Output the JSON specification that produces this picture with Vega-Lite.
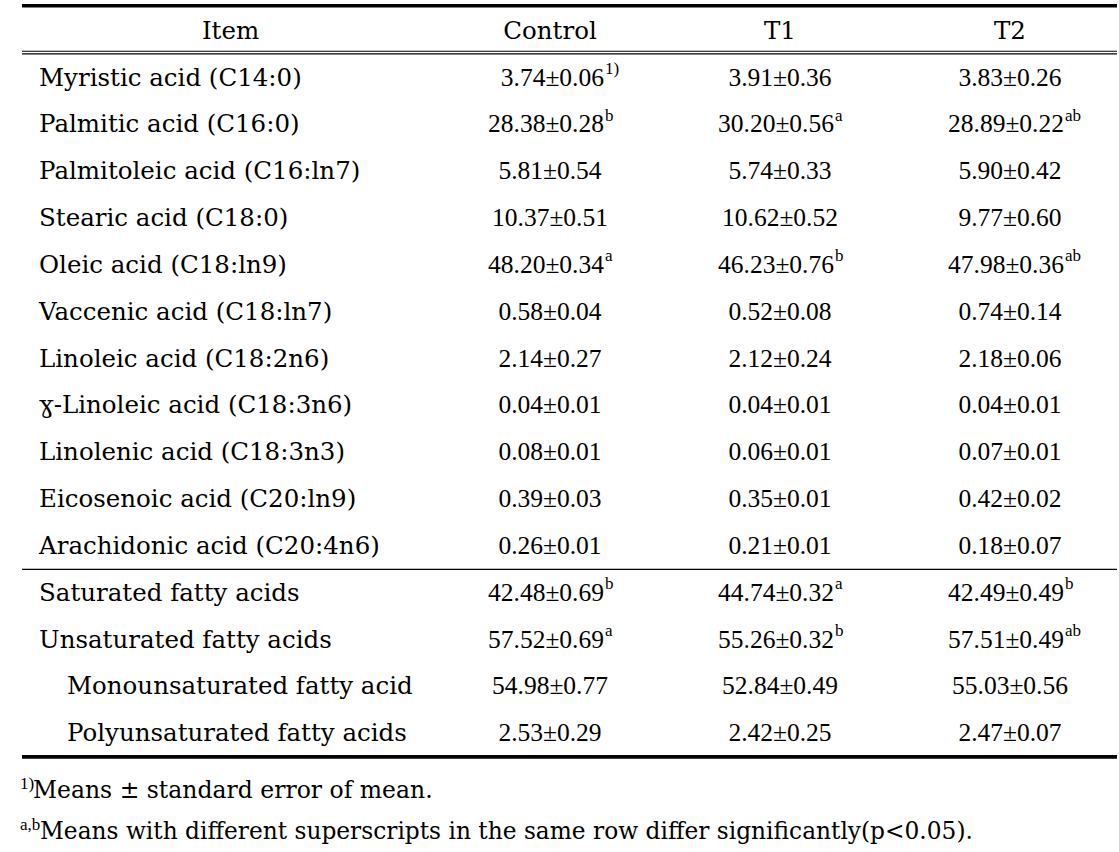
{
  "$schema": "https://vega.github.io/schema/vega-lite/v6.json",
  "width": 1119,
  "height": 852,
  "autosize": {"type": "fit", "contains": "padding"},
  "padding": {"left": 20, "top": 0, "right": 0, "bottom": 0},
  "background": "white",
  "config": {"view": {"stroke": null}},
  "datasets": {
    "items": [
      {"row": 1, "item": "Myristic acid (C14:0)", "level": 1},
      {"row": 2, "item": "Palmitic acid (C16:0)", "level": 1},
      {"row": 3, "item": "Palmitoleic acid (C16:ln7)", "level": 1},
      {"row": 4, "item": "Stearic acid (C18:0)", "level": 1},
      {"row": 5, "item": "Oleic acid (C18:ln9)", "level": 1},
      {"row": 6, "item": "Vaccenic acid (C18:ln7)", "level": 1},
      {"row": 7, "item": "Linoleic acid (C18:2n6)", "level": 1},
      {"row": 8, "item": "ɣ-Linoleic acid (C18:3n6)", "level": 1},
      {"row": 9, "item": "Linolenic acid (C18:3n3)", "level": 1},
      {"row": 10, "item": "Eicosenoic acid (C20:ln9)", "level": 1},
      {"row": 11, "item": "Arachidonic acid (C20:4n6)", "level": 1},
      {"row": 12, "item": "Saturated fatty acids", "level": 1},
      {"row": 13, "item": "Unsaturated fatty acids", "level": 1},
      {"row": 14, "item": "Monounsaturated fatty acid", "level": 2},
      {"row": 15, "item": "Polyunsaturated fatty acids", "level": 2}
    ],
    "cells": [
      {"row": 1, "group": "Control", "value": "3.74±0.06", "sup": "1)"},
      {"row": 1, "group": "T1", "value": "3.91±0.36", "sup": ""},
      {"row": 1, "group": "T2", "value": "3.83±0.26", "sup": ""},
      {"row": 2, "group": "Control", "value": "28.38±0.28", "sup": "b"},
      {"row": 2, "group": "T1", "value": "30.20±0.56", "sup": "a"},
      {"row": 2, "group": "T2", "value": "28.89±0.22", "sup": "ab"},
      {"row": 3, "group": "Control", "value": "5.81±0.54", "sup": ""},
      {"row": 3, "group": "T1", "value": "5.74±0.33", "sup": ""},
      {"row": 3, "group": "T2", "value": "5.90±0.42", "sup": ""},
      {"row": 4, "group": "Control", "value": "10.37±0.51", "sup": ""},
      {"row": 4, "group": "T1", "value": "10.62±0.52", "sup": ""},
      {"row": 4, "group": "T2", "value": "9.77±0.60", "sup": ""},
      {"row": 5, "group": "Control", "value": "48.20±0.34", "sup": "a"},
      {"row": 5, "group": "T1", "value": "46.23±0.76", "sup": "b"},
      {"row": 5, "group": "T2", "value": "47.98±0.36", "sup": "ab"},
      {"row": 6, "group": "Control", "value": "0.58±0.04", "sup": ""},
      {"row": 6, "group": "T1", "value": "0.52±0.08", "sup": ""},
      {"row": 6, "group": "T2", "value": "0.74±0.14", "sup": ""},
      {"row": 7, "group": "Control", "value": "2.14±0.27", "sup": ""},
      {"row": 7, "group": "T1", "value": "2.12±0.24", "sup": ""},
      {"row": 7, "group": "T2", "value": "2.18±0.06", "sup": ""},
      {"row": 8, "group": "Control", "value": "0.04±0.01", "sup": ""},
      {"row": 8, "group": "T1", "value": "0.04±0.01", "sup": ""},
      {"row": 8, "group": "T2", "value": "0.04±0.01", "sup": ""},
      {"row": 9, "group": "Control", "value": "0.08±0.01", "sup": ""},
      {"row": 9, "group": "T1", "value": "0.06±0.01", "sup": ""},
      {"row": 9, "group": "T2", "value": "0.07±0.01", "sup": ""},
      {"row": 10, "group": "Control", "value": "0.39±0.03", "sup": ""},
      {"row": 10, "group": "T1", "value": "0.35±0.01", "sup": ""},
      {"row": 10, "group": "T2", "value": "0.42±0.02", "sup": ""},
      {"row": 11, "group": "Control", "value": "0.26±0.01", "sup": ""},
      {"row": 11, "group": "T1", "value": "0.21±0.01", "sup": ""},
      {"row": 11, "group": "T2", "value": "0.18±0.07", "sup": ""},
      {"row": 12, "group": "Control", "value": "42.48±0.69", "sup": "b"},
      {"row": 12, "group": "T1", "value": "44.74±0.32", "sup": "a"},
      {"row": 12, "group": "T2", "value": "42.49±0.49", "sup": "b"},
      {"row": 13, "group": "Control", "value": "57.52±0.69", "sup": "a"},
      {"row": 13, "group": "T1", "value": "55.26±0.32", "sup": "b"},
      {"row": 13, "group": "T2", "value": "57.51±0.49", "sup": "ab"},
      {"row": 14, "group": "Control", "value": "54.98±0.77", "sup": ""},
      {"row": 14, "group": "T1", "value": "52.84±0.49", "sup": ""},
      {"row": 14, "group": "T2", "value": "55.03±0.56", "sup": ""},
      {"row": 15, "group": "Control", "value": "2.53±0.29", "sup": ""},
      {"row": 15, "group": "T1", "value": "2.42±0.25", "sup": ""},
      {"row": 15, "group": "T2", "value": "2.47±0.07", "sup": ""}
    ],
    "headers": [
      {"col": "Item"},
      {"col": "Control"},
      {"col": "T1"},
      {"col": "T2"}
    ],
    "rules": [
      {"at": -0.51, "weight": "heavy"},
      {"at": 0.46, "weight": "light"},
      {"at": 0.515, "weight": "light"},
      {"at": 11.52, "weight": "light"},
      {"at": 15.525, "weight": "heavy"}
    ],
    "notes": [
      {"row": 16.2, "mark": "1)", "text": "Means ± standard error of mean."},
      {"row": 17.08, "mark": "a,b", "text": "Means with different superscripts in the same row differ significantly(p<0.05)."}
    ]
  },
  "layer": [
    {
      "data": {"name": "rules"},
      "mark": {"type": "rule", "color": "#000000"},
      "encoding": {
        "y": {"field": "at", "type": "quantitative", "axis": null, "scale": {"domain": [-0.634, 17.555], "reverse": true, "zero": false, "nice": false}},
        "strokeWidth": {"field": "weight", "type": "nominal", "legend": null, "scale": {"domain": ["heavy", "light"], "range": [3.6, 1.2]}}
      }
    },
    {
      "data": {"name": "headers"},
      "transform": [{"filter": "datum.col !== 'Item'"}],
      "mark": {"type": "text", "font": "DejaVu Serif", "fontSize": 24.5, "align": "center", "baseline": "middle", "dy": 2, "color": "#000000"},
      "encoding": {
        "x": {"field": "col", "type": "nominal", "axis": null, "scale": {"type": "point", "domain": ["Item", "Control", "T1", "T2"], "range": [298, 988], "padding": 0}},
        "y": {"datum": 0, "type": "quantitative", "axis": null, "scale": {"domain": [-0.634, 17.555], "reverse": true, "zero": false, "nice": false}},
        "text": {"field": "col"}
      }
    },
    {
      "data": {"name": "headers"},
      "transform": [{"filter": "datum.col === 'Item'"}],
      "mark": {"type": "text", "font": "DejaVu Serif", "fontSize": 24.5, "align": "center", "baseline": "middle", "dx": -89.5, "dy": 2, "color": "#000000"},
      "encoding": {
        "x": {"field": "col", "type": "nominal", "axis": null, "scale": {"type": "point", "domain": ["Item", "Control", "T1", "T2"], "range": [298, 988], "padding": 0}},
        "y": {"datum": 0, "type": "quantitative", "axis": null, "scale": {"domain": [-0.634, 17.555], "reverse": true, "zero": false, "nice": false}},
        "text": {"field": "col"}
      }
    },
    {
      "data": {"name": "items"},
      "transform": [{"filter": "datum.level === 1"}],
      "mark": {"type": "text", "font": "DejaVu Serif", "fontSize": 24.5, "align": "left", "baseline": "middle", "dx": -281, "dy": 2, "color": "#000000"},
      "encoding": {
        "x": {"datum": "Item", "type": "nominal", "axis": null, "scale": {"type": "point", "domain": ["Item", "Control", "T1", "T2"], "range": [298, 988], "padding": 0}},
        "y": {"field": "row", "type": "quantitative", "axis": null, "scale": {"domain": [-0.634, 17.555], "reverse": true, "zero": false, "nice": false}},
        "text": {"field": "item"}
      }
    },
    {
      "data": {"name": "items"},
      "transform": [{"filter": "datum.level === 2"}],
      "mark": {"type": "text", "font": "DejaVu Serif", "fontSize": 24.5, "align": "left", "baseline": "middle", "dx": -253, "dy": 2, "color": "#000000"},
      "encoding": {
        "x": {"datum": "Item", "type": "nominal", "axis": null, "scale": {"type": "point", "domain": ["Item", "Control", "T1", "T2"], "range": [298, 988], "padding": 0}},
        "y": {"field": "row", "type": "quantitative", "axis": null, "scale": {"domain": [-0.634, 17.555], "reverse": true, "zero": false, "nice": false}},
        "text": {"field": "item"}
      }
    },
    {
      "data": {"name": "cells"},
      "transform": [{"filter": "datum.sup === ''"}],
      "mark": {"type": "text", "font": "Liberation Serif", "fontSize": 25.5, "align": "center", "baseline": "middle", "dy": 1, "color": "#000000"},
      "encoding": {
        "x": {"field": "group", "type": "nominal", "axis": null, "scale": {"type": "point", "domain": ["Item", "Control", "T1", "T2"], "range": [298, 988], "padding": 0}},
        "y": {"field": "row", "type": "quantitative", "axis": null, "scale": {"domain": [-0.634, 17.555], "reverse": true, "zero": false, "nice": false}},
        "text": {"field": "value"}
      }
    },
    {
      "data": {"name": "cells"},
      "transform": [{"filter": "datum.sup !== ''"}],
      "mark": {"type": "text", "font": "Liberation Serif", "fontSize": 25.5, "align": "right", "baseline": "middle", "dx": 54, "dy": 1, "color": "#000000"},
      "encoding": {
        "x": {"field": "group", "type": "nominal", "axis": null, "scale": {"type": "point", "domain": ["Item", "Control", "T1", "T2"], "range": [298, 988], "padding": 0}},
        "y": {"field": "row", "type": "quantitative", "axis": null, "scale": {"domain": [-0.634, 17.555], "reverse": true, "zero": false, "nice": false}},
        "text": {"field": "value"}
      }
    },
    {
      "data": {"name": "cells"},
      "transform": [{"filter": "datum.sup !== ''"}],
      "mark": {"type": "text", "font": "Liberation Serif", "fontSize": 17, "align": "left", "baseline": "middle", "dx": 55, "dy": -7.5, "color": "#000000"},
      "encoding": {
        "x": {"field": "group", "type": "nominal", "axis": null, "scale": {"type": "point", "domain": ["Item", "Control", "T1", "T2"], "range": [298, 988], "padding": 0}},
        "y": {"field": "row", "type": "quantitative", "axis": null, "scale": {"domain": [-0.634, 17.555], "reverse": true, "zero": false, "nice": false}},
        "text": {"field": "sup"}
      }
    },
    {
      "data": {"name": "notes"},
      "mark": {"type": "text", "font": "Liberation Serif", "fontSize": 17, "align": "left", "baseline": "middle", "dx": -300, "dy": -5, "color": "#000000"},
      "encoding": {
        "x": {"datum": "Item", "type": "nominal", "axis": null, "scale": {"type": "point", "domain": ["Item", "Control", "T1", "T2"], "range": [298, 988], "padding": 0}},
        "y": {"field": "row", "type": "quantitative", "axis": null, "scale": {"domain": [-0.634, 17.555], "reverse": true, "zero": false, "nice": false}},
        "text": {"field": "mark"}
      }
    },
    {
      "data": {"name": "notes"},
      "transform": [{"filter": "datum.mark === '1)'"}],
      "mark": {"type": "text", "font": "DejaVu Serif", "fontSize": 23.5, "align": "left", "baseline": "middle", "dx": -287, "dy": 2, "color": "#000000"},
      "encoding": {
        "x": {"datum": "Item", "type": "nominal", "axis": null, "scale": {"type": "point", "domain": ["Item", "Control", "T1", "T2"], "range": [298, 988], "padding": 0}},
        "y": {"field": "row", "type": "quantitative", "axis": null, "scale": {"domain": [-0.634, 17.555], "reverse": true, "zero": false, "nice": false}},
        "text": {"field": "text"}
      }
    },
    {
      "data": {"name": "notes"},
      "transform": [{"filter": "datum.mark === 'a,b'"}],
      "mark": {"type": "text", "font": "DejaVu Serif", "fontSize": 23.3, "align": "left", "baseline": "middle", "dx": -280, "dy": 2, "color": "#000000"},
      "encoding": {
        "x": {"datum": "Item", "type": "nominal", "axis": null, "scale": {"type": "point", "domain": ["Item", "Control", "T1", "T2"], "range": [298, 988], "padding": 0}},
        "y": {"field": "row", "type": "quantitative", "axis": null, "scale": {"domain": [-0.634, 17.555], "reverse": true, "zero": false, "nice": false}},
        "text": {"field": "text"}
      }
    }
  ]
}
